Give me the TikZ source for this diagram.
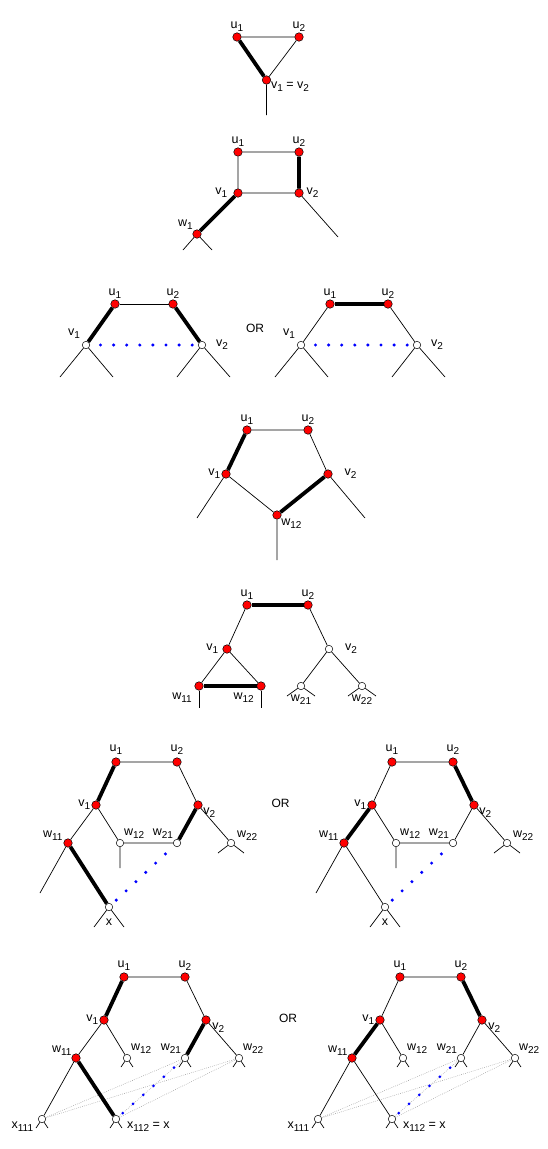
\documentclass[tikz,border=0pt]{standalone}
\usepackage{fontspec}
\setmainfont{Liberation Sans}

\newcommand{\low}[1]{\raisebox{-3pt}{\fontsize{10}{10}\selectfont #1}}
\newcommand{\labelfont}{\fontsize{12.5}{12.5}\selectfont}
\newcommand{\orfont}{\fontsize{12}{12}\selectfont}

\tikzset{
	red vertex/.style={circle, draw, line width=0.5pt, fill=red, inner sep=0pt, minimum size=8.5pt},
	open vertex/.style={circle, draw, line width=0.5pt, fill=white, inner sep=0pt, minimum size=7.5pt},
	edge/.style={line width=0.7pt},
	heavy/.style={line width=3.8pt},
	blue dots/.style={blue, line width=3.4pt, line cap=round, dash pattern=on 0pt off 13.1pt},
	gray dots/.style={gray!80, line width=0.5pt, dash pattern=on 0.7pt off 1.3pt},
	lbl/.style={font=\labelfont, inner sep=1pt},
	every label/.style={lbl}
}

\begin{document}
\begin{tikzpicture}[x=1pt,y=-1pt]
		\useasboundingbox (0,0) rectangle (547,1149);
		% triangle
		\begin{scope}[name prefix=a-]
		\node[red vertex, label=above:u\low1] (u1) at (237,37) {};
		\node[red vertex, label=above:u\low2] (u2) at (299,37) {};
		\node[red vertex, label={[label distance=-1pt]-10:{v\low1 = v\low2}}] (v1) at (266.5,80) {};
		\coordinate (t1) at (266.5,115);
		\draw[edge] (u1) -- (u2) (u2) -- (v1) (v1) -- (t1);
		\draw[heavy] (u1) -- (v1);
		\end{scope}
		% square
		\begin{scope}[name prefix=b-]
		\node[red vertex, label=above:u\low1] (u1) at (238,152) {};
		\node[red vertex, label=above:u\low2] (u2) at (299,152) {};
		\node[red vertex, label={[label distance=5pt]left:v\low1}] (v1) at (238,193) {};
		\node[red vertex, label={[label distance=2pt]right:v\low2}] (v2) at (299,193) {};
		\node[red vertex, label=above left:w\low1] (w1) at (197,234) {};
		\coordinate (t1) at (338,237);
		\draw[edge] (u1) -- (u2) (u1) -- (v1) (v1) -- (v2) (v2) -- (t1);
		\draw[edge] (w1) -- ++(-14,16) (w1) -- ++(15,16);
		\draw[heavy] (u2) -- (v2) (v1) -- (w1);
		\end{scope}
		% two open ends
		\begin{scope}[name prefix=c-]
		\node[red vertex, label=above:u\low1] (u1) at (115,304) {};
		\node[red vertex, label=above:u\low2] (u2) at (173,304) {};
		\node[open vertex, label={[label distance=3pt]135:v\low1}] (v1) at (86,345) {};
		\node[open vertex, label={[label distance=9pt]right:v\low2}] (v2) at (202,345) {};
		\draw[edge] (u1) -- (u2);
		\draw[edge] (v1) -- ++(-26,32) (v1) -- ++(27,32) (v2) -- ++(-25,32) (v2) -- ++(28,32);
		\draw[heavy] (u1) -- (v1) (u2) -- (v2);
		\draw[blue dots, shorten <=10.5pt] (v1) -- (v2);
		\end{scope}
		\node[font=\orfont] (or1) at (255,328) {OR};
		\begin{scope}[name prefix=d-, xshift=215pt]
		\node[red vertex, label=above:u\low1] (u1) at (115,304) {};
		\node[red vertex, label=above:u\low2] (u2) at (173,304) {};
		\node[open vertex, label={[label distance=3pt]135:v\low1}] (v1) at (86,345) {};
		\node[open vertex, label={[label distance=9pt]right:v\low2}] (v2) at (202,345) {};
		\draw[edge] (u1) -- (v1) (u2) -- (v2);
		\draw[edge] (v1) -- ++(-26,32) (v1) -- ++(27,32) (v2) -- ++(-25,32) (v2) -- ++(28,32);
		\draw[heavy] (u1) -- (u2);
		\draw[blue dots, shorten <=10.5pt] (v1) -- (v2);
		\end{scope}
		% pentagon
		\begin{scope}[name prefix=e-]
		\node[red vertex, label=above:u\low1] (u1) at (247,430) {};
		\node[red vertex, label=above:u\low2] (u2) at (308,430) {};
		\node[red vertex, label=left:v\low1] (v1) at (226,474) {};
		\node[red vertex, label={[label distance=11pt]right:v\low2}] (v2) at (328,474) {};
		\node[red vertex, label=below right:w\low{12}] (w12) at (277,515) {};
		\coordinate (t1) at (197,518);
		\coordinate (t2) at (365,518);
		\coordinate (t3) at (277,560);
		\draw[edge] (u1) -- (u2) (u2) -- (v2) (v1) -- (w12) (v1) -- (t1) (v2) -- (t2) (w12) -- (t3);
		\draw[heavy] (u1) -- (v1) (w12) -- (v2);
		\end{scope}
		% small triangle below v1
		\begin{scope}[name prefix=f-]
		\node[red vertex, label=above:u\low1] (u1) at (247,605) {};
		\node[red vertex, label=above:u\low2] (u2) at (308,605) {};
		\node[red vertex, label={[label distance=3pt]left:v\low1}] (v1) at (227,649) {};
		\node[open vertex, label={[label distance=11pt]right:v\low2}] (v2) at (329,649) {};
		\node[red vertex, label={[label distance=4pt]below left:w\low{11}}] (w11) at (199,686) {};
		\node[red vertex, label={[label distance=4pt]below left:w\low{12}}] (w12) at (261,686) {};
		\node[open vertex, label={[label distance=4pt]below:w\low{21}}] (w21) at (301,686) {};
		\node[open vertex, label={[label distance=4pt]below:w\low{22}}] (w22) at (362,686) {};
		\coordinate (t1) at (199,708);
		\coordinate (t2) at (261,708);
		\draw[edge] (u1) -- (v1) (u2) -- (v2) (v1) -- (w11) (v1) -- (w12) (v2) -- (w21) (v2) -- (w22);
		\draw[edge] (w11) -- (t1) (w12) -- (t2);
		\draw[edge] (w21) -- ++(-14,10) (w21) -- ++(14,10) (w22) -- ++(-14,10) (w22) -- ++(14,10);
		\draw[heavy] (u1) -- (u2) (w11) -- (w12);
		\end{scope}
		% hexagon, two cases
		\begin{scope}[name prefix=g-]
		\node[red vertex, label={[label distance=1.5pt]above:u\low1}] (u1) at (116,762) {};
		\node[red vertex, label={[label distance=1.5pt]above:u\low2}] (u2) at (177,762) {};
		\node[red vertex, label=left:v\low1] (v1) at (96,805) {};
		\node[red vertex, label=-20:v\low2] (v2) at (198,805) {};
		\node[red vertex, label=165:w\low{11}] (w11) at (68,843) {};
		\node[open vertex, label=45:w\low{12}] (w12) at (120,843) {};
		\node[open vertex, label=135:w\low{21}] (w21) at (177,843) {};
		\node[open vertex, label={[label distance=1pt]15:w\low{22}}] (w22) at (231,843) {};
		\node[open vertex, label={[label distance=7pt]below:x}] (x) at (109,907) {};
		\coordinate (t1) at (40,893);
		\coordinate (t2) at (120,868);
		\draw[edge] (u1) -- (u2) (u2) -- (v2) (v1) -- (w11) (v1) -- (w12) (w12) -- (w21) (v2) -- (w22);
		\draw[edge] (w11) -- (t1) (w12) -- (t2);
		\draw[edge] (w22) -- ++(-13,10) (w22) -- ++(13,10) (x) -- ++(-15,20) (x) -- ++(15,20);
		\draw[heavy] (u1) -- (v1) (v2) -- (w21) (w11) -- (x);
		\draw[blue dots, dash pattern=on 0pt off 13.5pt, shorten <=6pt, shorten >=10pt] (x) -- (w21);
		\end{scope}
		\node[font=\orfont] (or2) at (280.5,803) {OR};
		\begin{scope}[name prefix=h-, xshift=276pt]
		\node[red vertex, label={[label distance=1.5pt]above:u\low1}] (u1) at (116,762) {};
		\node[red vertex, label={[label distance=1.5pt]above:u\low2}] (u2) at (177,762) {};
		\node[red vertex, label=left:v\low1] (v1) at (96,805) {};
		\node[red vertex, label=-20:v\low2] (v2) at (198,805) {};
		\node[red vertex, label=165:w\low{11}] (w11) at (68,843) {};
		\node[open vertex, label=45:w\low{12}] (w12) at (120,843) {};
		\node[open vertex, label=135:w\low{21}] (w21) at (177,843) {};
		\node[open vertex, label={[label distance=1pt]15:w\low{22}}] (w22) at (231,843) {};
		\node[open vertex, label={[label distance=7pt]below:x}] (x) at (109,907) {};
		\coordinate (t1) at (40,893);
		\coordinate (t2) at (120,868);
		\draw[edge] (u1) -- (u2) (u1) -- (v1) (v1) -- (w12) (w12) -- (w21) (v2) -- (w21) (v2) -- (w22) (w11) -- (x);
		\draw[edge] (w11) -- (t1) (w12) -- (t2);
		\draw[edge] (w22) -- ++(-13,10) (w22) -- ++(13,10) (x) -- ++(-15,20) (x) -- ++(15,20);
		\draw[heavy] (u2) -- (v2) (v1) -- (w11);
		\draw[blue dots, dash pattern=on 0pt off 13.5pt, shorten <=6pt, shorten >=10pt] (x) -- (w21);
		\end{scope}
		% hexagon with x111 and x112, two cases
		\begin{scope}[name prefix=i-]
		\node[red vertex, label={[label distance=1pt]above:u\low1}] (u1) at (124,977) {};
		\node[red vertex, label={[label distance=1pt]above:u\low2}] (u2) at (185,977) {};
		\node[red vertex, label=left:v\low1] (v1) at (104,1020) {};
		\node[red vertex, label={[label distance=1pt]-20:v\low2}] (v2) at (206,1020) {};
		\node[red vertex, label={[label distance=-1pt]160:w\low{11}}] (w11) at (76,1058) {};
		\node[open vertex, label=45:w\low{12}] (w12) at (127,1058) {};
		\node[open vertex, label=135:w\low{21}] (w21) at (185,1058) {};
		\node[open vertex, label=45:w\low{22}] (w22) at (239,1058) {};
		\node[open vertex, label={[label distance=4pt]195:x\low{111}}] (x111) at (42,1119) {};
		\node[open vertex, label={[label distance=6pt]-10:{x\low{112} = x}}] (x112) at (116,1119) {};
		\draw[gray dots] (x111) -- (w21) (x111) -- (w22) (x112) -- (w21) (x112) -- (w22);
		\draw[edge] (u1) -- (u2) (u2) -- (v2) (v1) -- (w11) (v1) -- (w12) (v2) -- (w22) (w11) -- (x111);
		\draw[edge] (w12) -- ++(-6,9) (w12) -- ++(6,9) (w21) -- ++(-6,9) (w21) -- ++(6,9) (w22) -- ++(-6,9) (w22) -- ++(6,9);
		\draw[edge] (x111) -- ++(-6,9) (x111) -- ++(6,9) (x112) -- ++(-6,9) (x112) -- ++(6,9);
		\draw[heavy] (u1) -- (v1) (v2) -- (w21) (w11) -- (x112);
		\draw[blue dots, line width=3pt, dash pattern=on 0pt off 13.7pt, shorten <=5pt, shorten >=6pt] (x112) -- (w21);
		\end{scope}
		\node[font=\orfont] (or3) at (288,1018) {OR};
		\begin{scope}[name prefix=j-, xshift=276pt]
		\node[red vertex, label={[label distance=1pt]above:u\low1}] (u1) at (124,977) {};
		\node[red vertex, label={[label distance=1pt]above:u\low2}] (u2) at (185,977) {};
		\node[red vertex, label=left:v\low1] (v1) at (104,1020) {};
		\node[red vertex, label={[label distance=1pt]-20:v\low2}] (v2) at (206,1020) {};
		\node[red vertex, label={[label distance=-1pt]160:w\low{11}}] (w11) at (76,1058) {};
		\node[open vertex, label=45:w\low{12}] (w12) at (127,1058) {};
		\node[open vertex, label=135:w\low{21}] (w21) at (185,1058) {};
		\node[open vertex, label=45:w\low{22}] (w22) at (239,1058) {};
		\node[open vertex, label={[label distance=4pt]195:x\low{111}}] (x111) at (42,1119) {};
		\node[open vertex, label={[label distance=6pt]-10:{x\low{112} = x}}] (x112) at (116,1119) {};
		\draw[gray dots] (x111) -- (w21) (x111) -- (w22) (x112) -- (w21) (x112) -- (w22);
		\draw[edge] (u1) -- (u2) (u1) -- (v1) (v1) -- (w12) (v2) -- (w21) (v2) -- (w22) (w11) -- (x111) (w11) -- (x112);
		\draw[edge] (w12) -- ++(-6,9) (w12) -- ++(6,9) (w21) -- ++(-6,9) (w21) -- ++(6,9) (w22) -- ++(-6,9) (w22) -- ++(6,9);
		\draw[edge] (x111) -- ++(-6,9) (x111) -- ++(6,9) (x112) -- ++(-6,9) (x112) -- ++(6,9);
		\draw[heavy] (u2) -- (v2) (v1) -- (w11);
		\draw[blue dots, line width=3pt, dash pattern=on 0pt off 13.7pt, shorten <=5pt, shorten >=6pt] (x112) -- (w21);
		\end{scope}
\end{tikzpicture}
\end{document}
